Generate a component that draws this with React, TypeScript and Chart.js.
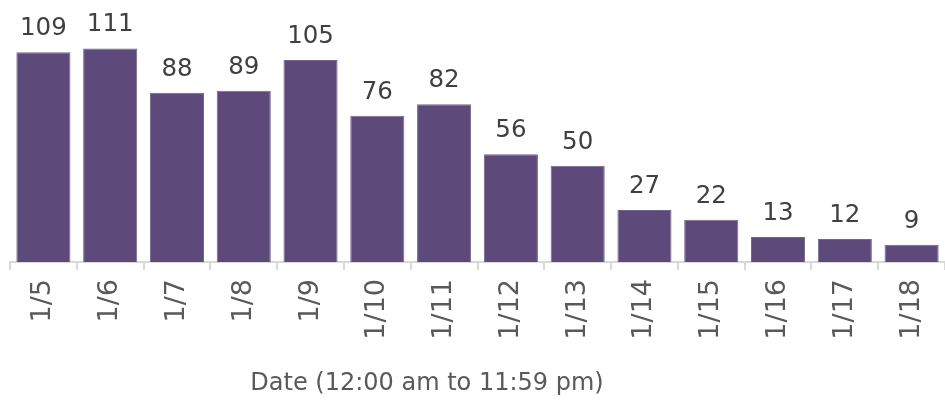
import React, { useEffect, useRef } from "react";
import { Chart, registerables } from "chart.js";

Chart.register(...registerables);

const categories = ["1/5", "1/6", "1/7", "1/8", "1/9", "1/10", "1/11", "1/12", "1/13", "1/14", "1/15", "1/16", "1/17", "1/18"];
const counts = [109, 111, 88, 89, 105, 76, 82, 56, 50, 27, 22, 13, 12, 9];
const axisTitle = "Date (12:00 am to 11:59 pm)";

const FONT = "'DejaVu Sans', sans-serif";

const valueLabels = {
  id: "valueLabels",
  afterDatasetsDraw(chart: any) {
    const ctx = chart.ctx;
    const meta = chart.getDatasetMeta(0);
    ctx.save();
    ctx.font = `24.5px ${FONT}`;
    ctx.fillStyle = "#404040";
    ctx.textAlign = "center";
    ctx.textBaseline = "alphabetic";
    meta.data.forEach((bar: any, i: number) => {
      ctx.fillText(String(chart.data.datasets[0].data[i]), bar.x, bar.y - 17);
    });
    ctx.restore();
  },
};

const bottomTitle = {
  id: "bottomTitle",
  afterDraw(chart: any) {
    const ctx = chart.ctx;
    ctx.save();
    ctx.font = `24px ${FONT}`;
    ctx.fillStyle = "#595959";
    ctx.textAlign = "center";
    ctx.textBaseline = "alphabetic";
    ctx.fillText(axisTitle, 427, 390);
    ctx.restore();
  },
};

export default function App() {
  const ref = useRef<HTMLCanvasElement>(null);
  useEffect(() => {
    if (!ref.current) return;
    const chart = new Chart(ref.current, {
      type: "bar",
      data: {
        labels: categories,
        datasets: [
          {
            data: counts,
            backgroundColor: "#5e4a7a",
            borderColor: "#75648f",
            borderWidth: 1,
            barPercentage: 0.81,
            categoryPercentage: 1,
          },
        ],
      },
      options: {
        responsive: false,
        animation: false,
        layout: { padding: { left: 10, right: 0, top: 10, bottom: 0 } },
        plugins: {
          legend: { display: false },
          tooltip: { enabled: false },
          title: { display: false },
        },
        scales: {
          y: { display: false, min: 0, max: 131 },
          x: {
            offset: true,
            afterFit: (scale: any) => {
              scale.height = 141;
              scale.paddingLeft = 0;
              scale.paddingRight = 0;
            },
            grid: {
              display: true,
              offset: true,
              drawOnChartArea: false,
              drawTicks: true,
              tickLength: 8,
              color: "#d9d9d9",
              lineWidth: 2,
            },
            border: { display: true, color: "#d9d9d9", width: 2 },
            ticks: {
              autoSkip: false,
              minRotation: 90,
              maxRotation: 90,
              padding: 9,
              color: "#595959",
              font: { family: FONT, size: 27 },
            },
          },
        },
      },
      plugins: [valueLabels, bottomTitle],
    });
    return () => chart.destroy();
  }, []);
  return (
    <canvas
      ref={ref}
      width={945}
      height={403}
      style={{ position: "absolute", left: 0, top: 0, display: "block" }}
    />
  );
}
